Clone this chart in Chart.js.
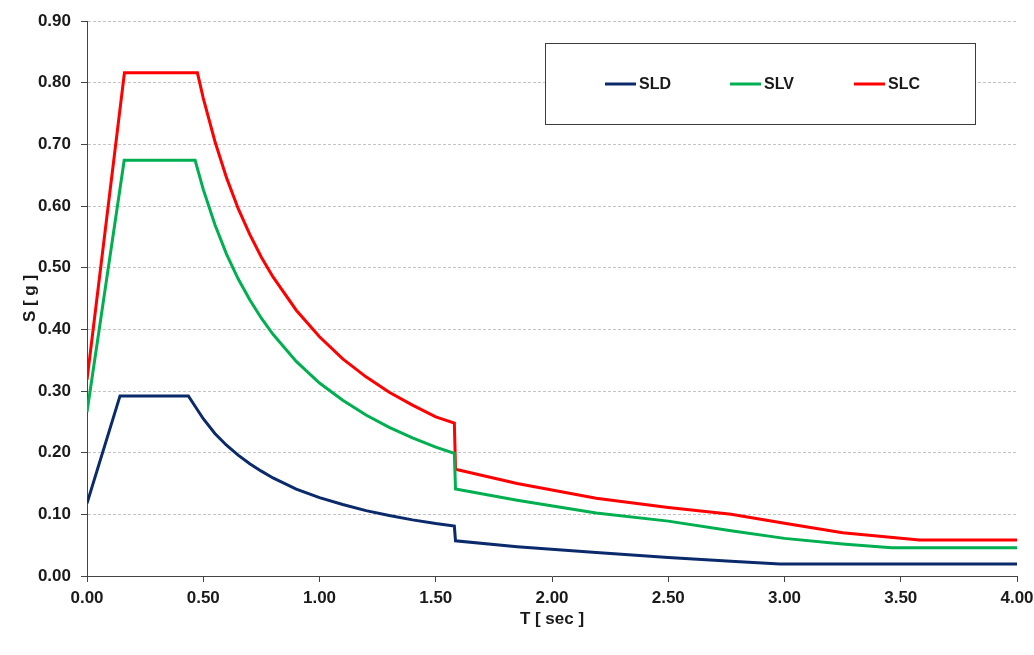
<!DOCTYPE html>
<html>
<head>
<meta charset="utf-8">
<script src="https://cdn.jsdelivr.net/npm/chart.js@4/dist/chart.umd.min.js"></script>
<style>
  html, body { margin: 0; padding: 0; background: #ffffff; }
  #wrap { width: 1034px; height: 655px; }
</style>
</head>
<body>
<div id="wrap"><canvas id="spectrum" width="1034" height="655"></canvas></div>
<script>
// ---- data ----
const sldPeriods = [0, 0.142, 0.436, 0.5, 0.55, 0.6, 0.65, 0.7, 0.75, 0.8, 0.9, 1.0, 1.1, 1.2, 1.3, 1.4, 1.5, 1.58, 1.585, 1.85, 2.19, 2.5, 2.77, 2.98, 4.0];
const sldValues  = [0.118, 0.292, 0.292, 0.255, 0.231, 0.212, 0.196, 0.182, 0.170, 0.159, 0.141, 0.127, 0.116, 0.106, 0.098, 0.091, 0.085, 0.081, 0.057, 0.0475, 0.038, 0.030, 0.024, 0.0195, 0.0195];

const slvPeriods = [0, 0.16, 0.465, 0.5, 0.55, 0.6, 0.65, 0.7, 0.75, 0.8, 0.9, 1.0, 1.1, 1.2, 1.3, 1.4, 1.5, 1.58, 1.585, 1.85, 2.19, 2.5, 2.77, 3.0, 3.25, 3.46, 4.0];
const slvValues  = [0.266, 0.674, 0.674, 0.627, 0.570, 0.522, 0.482, 0.448, 0.418, 0.392, 0.348, 0.313, 0.285, 0.261, 0.241, 0.224, 0.209, 0.199, 0.141, 0.123, 0.102, 0.089, 0.0735, 0.061, 0.052, 0.046, 0.046];

const slcPeriods = [0, 0.161, 0.475, 0.5, 0.55, 0.6, 0.65, 0.7, 0.75, 0.8, 0.9, 1.0, 1.1, 1.2, 1.3, 1.4, 1.5, 1.58, 1.585, 1.85, 2.19, 2.5, 2.77, 3.0, 3.25, 3.58, 4.0];
const slcValues  = [0.318, 0.816, 0.816, 0.775, 0.705, 0.646, 0.596, 0.554, 0.517, 0.485, 0.431, 0.388, 0.352, 0.323, 0.298, 0.277, 0.258, 0.248, 0.173, 0.150, 0.126, 0.111, 0.100, 0.0854, 0.070, 0.0583, 0.0583];

const seriesNames = ['SLD', 'SLV', 'SLC'];
const xTitle = 'T [ sec ]';
const yTitle = 'S [ g ]';

const FONT = '"Liberation Sans", Arial, sans-serif';
const TEXT_COLOR = '#1a1a1a';

function toPoints(periods, values) {
  return periods.map((t, i) => ({ x: t, y: values[i] }));
}

// legend drawn as a framed box inside the plot, like the spreadsheet original
const boxLegend = {
  id: 'boxLegend',
  afterDraw(chart) {
    const ctx = chart.ctx;
    ctx.save();
    ctx.fillStyle = '#ffffff';
    ctx.fillRect(545, 43, 430, 81);
    ctx.strokeStyle = '#3c3c3c';
    ctx.lineWidth = 1;
    ctx.strokeRect(545.5, 43.5, 430, 81);

    const starts = [605, 730, 854];
    const y = 84;
    chart.data.datasets.forEach((ds, i) => {
      const x = starts[i];
      ctx.strokeStyle = ds.borderColor;
      ctx.lineWidth = 3;
      ctx.beginPath();
      ctx.moveTo(x, y);
      ctx.lineTo(x + 31, y);
      ctx.stroke();
      ctx.fillStyle = TEXT_COLOR;
      ctx.font = 'bold 16px ' + FONT;
      ctx.textBaseline = 'middle';
      ctx.textAlign = 'left';
      ctx.fillText(ds.label, x + 34, y + 0.5);
    });
    ctx.restore();
  }
};

const ctx = document.getElementById('spectrum').getContext('2d');
new Chart(ctx, {
  type: 'scatter',
  data: {
    datasets: [
      { label: seriesNames[0], data: toPoints(sldPeriods, sldValues), borderColor: '#0b2a6b' },
      { label: seriesNames[1], data: toPoints(slvPeriods, slvValues), borderColor: '#00b050' },
      { label: seriesNames[2], data: toPoints(slcPeriods, slcValues), borderColor: '#ff0000' }
    ].map(ds => Object.assign(ds, {
      showLine: true,
      borderWidth: 3,
      pointRadius: 0,
      pointHoverRadius: 0,
      tension: 0,
      fill: false
    }))
  },
  options: {
    responsive: false,
    animation: false,
    layout: { padding: { left: 0, right: 17, top: 21, bottom: 0 } },
    plugins: {
      legend: { display: false },
      tooltip: { enabled: false }
    },
    scales: {
      x: {
        type: 'linear',
        min: 0,
        max: 4,
        afterFit: (scale) => {
          scale.height = 79;
          // let the last label hang over the edge, as in the original
          scale.paddingRight = 0;
        },
        ticks: {
          stepSize: 0.5,
          padding: 6,
          color: TEXT_COLOR,
          font: { family: FONT, size: 17, weight: 'bold' },
          callback: (v) => Number(v).toFixed(2),
          maxRotation: 0
        },
        grid: {
          drawOnChartArea: false,
          drawTicks: true,
          tickLength: 6,
          tickColor: '#444444'
        },
        border: { display: true, color: '#444444', width: 1 },
        title: {
          display: true,
          text: xTitle,
          color: TEXT_COLOR,
          font: { family: FONT, size: 17, weight: 'bold' },
          padding: { top: 0, bottom: 25 }
        }
      },
      y: {
        type: 'linear',
        min: 0,
        max: 0.9,
        afterFit: (scale) => { scale.width = 87; },
        ticks: {
          stepSize: 0.1,
          padding: 10,
          color: TEXT_COLOR,
          font: { family: FONT, size: 17, weight: 'bold' },
          callback: (v) => Number(v).toFixed(2)
        },
        grid: {
          drawOnChartArea: true,
          color: '#c4c4c4',
          lineWidth: 1,
          drawTicks: true,
          tickLength: 6,
          tickColor: '#444444'
        },
        border: { display: true, color: '#444444', width: 1, dash: [3, 2] },
        title: {
          display: true,
          text: yTitle,
          color: TEXT_COLOR,
          font: { family: FONT, size: 17, weight: 'bold' },
          padding: { top: 20, bottom: 0 }
        }
      }
    }
  },
  plugins: [boxLegend]
});
</script>
</body>
</html>
